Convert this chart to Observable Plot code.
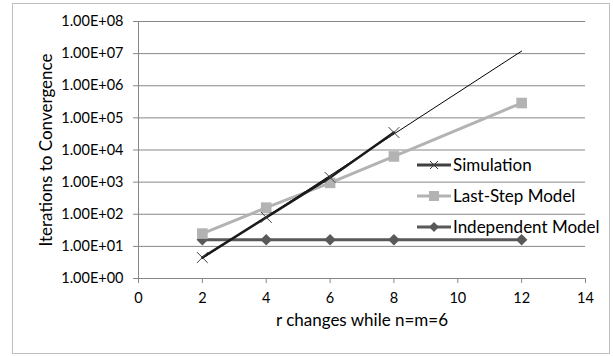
<!DOCTYPE html>
<html><head><meta charset="utf-8">
<script src="https://cdn.jsdelivr.net/npm/d3@7"></script>
<script src="https://cdn.jsdelivr.net/npm/@observablehq/plot@0.6"></script>
<style>
body{margin:0;background:#fff;font-family:Lato,"Open Sans",sans-serif;}
#wrap{position:relative;width:613px;height:356px;}
#border{position:absolute;left:12px;top:3px;width:598px;height:351px;border:1px solid #bfbfbf;box-sizing:border-box;pointer-events:none;}
#legend{position:absolute;left:417px;top:149px;font-size:17px;color:#000;line-height:1;}
#legend div{display:flex;align-items:center;height:31px;}
#legend svg{margin-right:2px;}
</style></head><body>
<div id="wrap"><div id="border"></div><div id="legend"></div></div>
<script>
const rValues = [2, 4, 6, 8, 12];
const simR = [2, 4, 6, 8];
const simulation = [4.5, 80, 1400, 35000];
const lastStep = [25, 160, 950, 6300, 290000];
const independent = [16, 16, 16, 16, 16];
const trendR = [2, 12];
const trend = [4.2, 1.2e7];
const yTicks = [1, 1e1, 1e2, 1e3, 1e4, 1e5, 1e6, 1e7, 1e8];
const xTicks = [0, 2, 4, 6, 8, 10, 12, 14];
const seriesNames = ["Simulation", "Last-Step Model", "Independent Model"];

const simData = simR.map((r, i) => ({r, v: simulation[i]}));
const lastData = rValues.map((r, i) => ({r, v: lastStep[i]}));
const indData = rValues.map((r, i) => ({r, v: independent[i]}));
const trendData = trendR.map((r, i) => ({r, v: trend[i]}));

const fmt = d => { const e = Math.round(Math.log10(d)); return "1.00E+" + String(e).padStart(2, "0"); };
const grid = "#868686";

const chart = Plot.plot({
  width: 613, height: 356,
  marginLeft: 138, marginRight: 28, marginTop: 21, marginBottom: 78,
  style: {fontFamily: "Lato, 'Open Sans', sans-serif", fontSize: "14.5px", color: "#000", background: "transparent"},
  x: {domain: [0, 14], label: null},
  y: {type: "log", domain: [1, 1e8], label: null},
  marks: [
    Plot.ruleY(yTicks.slice(1), {stroke: grid, strokeWidth: 1}),
    Plot.axisX({ticks: xTicks, tickSize: 5, tickPadding: 9, stroke: grid, color: "#000", label: null, fontSize: 14.5}),
    Plot.axisY({ticks: yTicks, tickFormat: fmt, tickSize: 5, tickPadding: 10, stroke: grid, color: "#000", label: null, fontSize: 14.5}),
    Plot.ruleY([1], {stroke: grid}),
    Plot.ruleX([0], {stroke: grid}),
    Plot.line(indData, {x: "r", y: "v", stroke: "#595959", strokeWidth: 3}),
    Plot.dot(indData, {x: "r", y: "v", symbol: "diamond2", r: 5.2, fill: "#595959", stroke: "none"}),
    Plot.line(lastData, {x: "r", y: "v", stroke: "#b3b3b3", strokeWidth: 3}),
    Plot.dot(lastData, {x: "r", y: "v", symbol: "square", r: 6, fill: "#b3b3b3", stroke: "none"}),
    Plot.line(trendData, {x: "r", y: "v", stroke: "#000", strokeWidth: 1}),
    Plot.line(simData, {x: "r", y: "v", stroke: "#1a1a1a", strokeWidth: 2.5}),
    Plot.dot(simData, {x: "r", y: "v", symbol: "times", r: 5, stroke: "#404040", strokeWidth: 1}),
    Plot.text(["r changes while n=m=6"], {frameAnchor: "bottom", dy: 47, fontSize: 17, fill: "#000", textAnchor: "middle"}),
    Plot.text(["Iterations to Convergence"], {frameAnchor: "left", dx: -92, rotate: -90, fontSize: 17, fill: "#000", textAnchor: "middle", lineAnchor: "middle"})
  ]
});
document.getElementById("wrap").prepend(chart);
chart.style.position = "absolute"; chart.style.left = "0"; chart.style.top = "0";

const leg = document.getElementById("legend");
const legStyles = [
  {stroke: "#404040", sym: `<path d="M13,-4L21,4M13,4L21,-4" stroke="#404040" stroke-width="1" fill="none"/>`},
  {stroke: "#b3b3b3", sym: `<rect x="12" y="-5" width="10" height="10" fill="#b3b3b3"/>`},
  {stroke: "#595959", sym: `<path d="M17,-5L22,0L17,5L12,0Z" fill="#595959"/>`}
];
seriesNames.forEach((name, i) => {
  const s = legStyles[i];
  const row = document.createElement("div");
  row.innerHTML = `<svg width="34" height="12" viewBox="0 -6 34 12"><line x1="0" x2="34" y1="0" y2="0" stroke="${s.stroke}" stroke-width="3"/>${s.sym}</svg><span>${name}</span>`;
  leg.appendChild(row);
});
</script>
</body></html>
